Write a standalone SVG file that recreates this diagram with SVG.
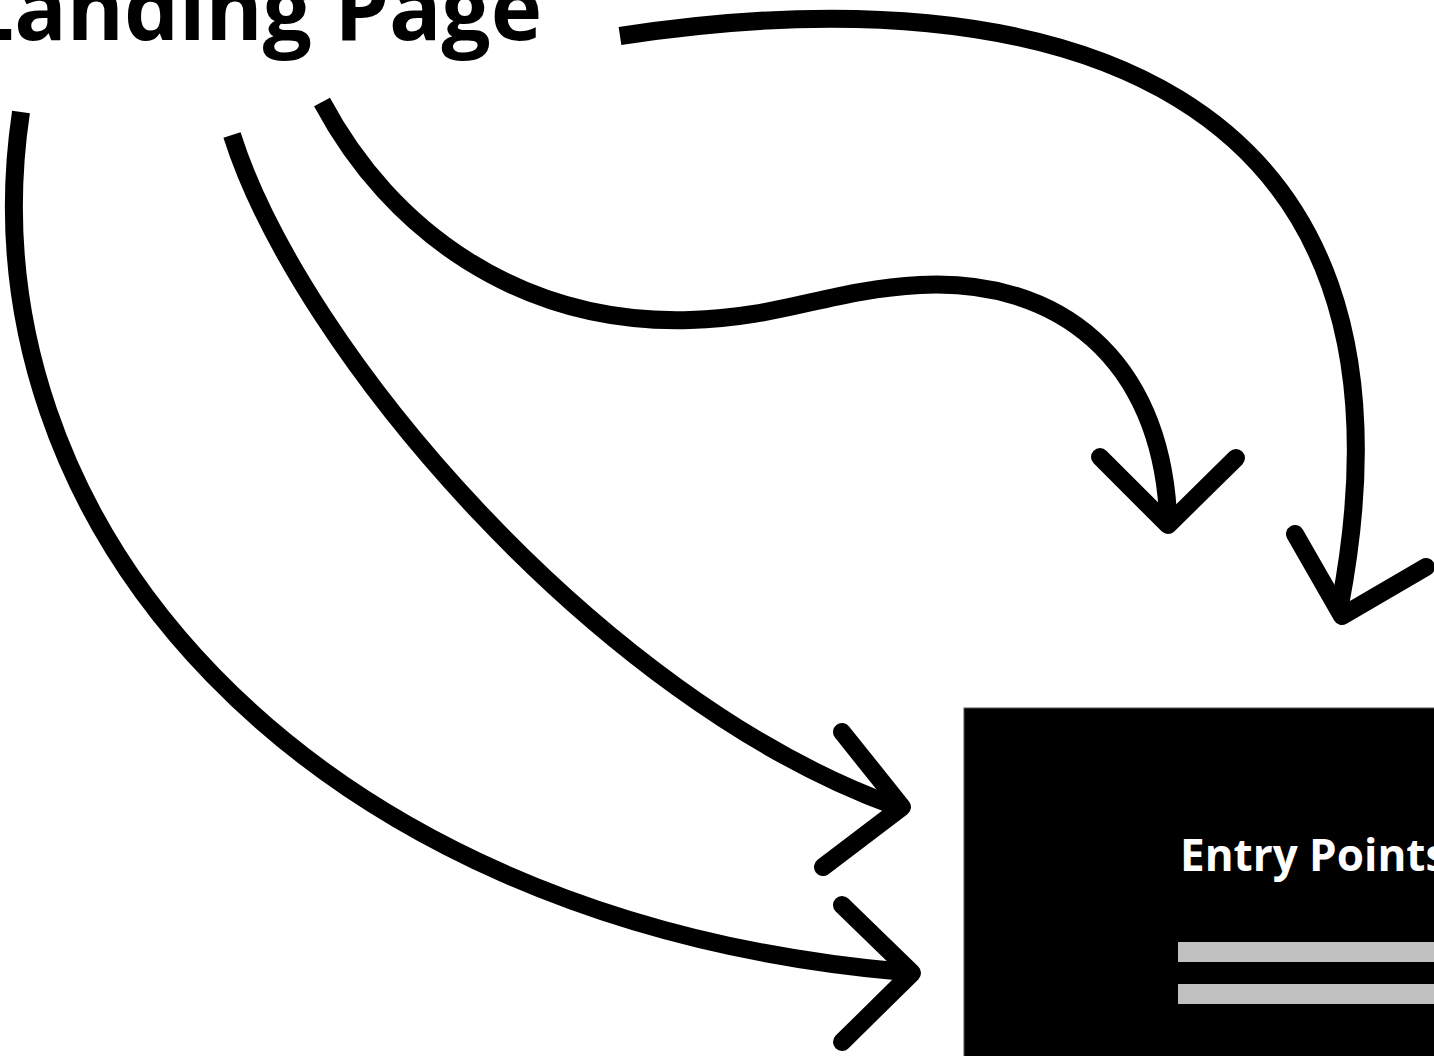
<svg xmlns="http://www.w3.org/2000/svg" width="1434" height="1056" viewBox="0 0 1434 1056">
<style>
.lbl{font-family:"Open Sans","Noto Sans","Liberation Sans",sans-serif;font-weight:700}
.c{fill:none;stroke:#000;stroke-width:18}
.h{fill:none;stroke:#000;stroke-width:18;stroke-linecap:round;stroke-linejoin:round}
</style>
<rect width="1434" height="1056" fill="#fff"/>
<g id="landing">
<text class="lbl" x="-35" y="40" font-size="87" fill="#000">Landing Page</text>
</g>
<g id="entry">
<rect x="964" y="708" width="480" height="360" fill="#000" stroke="#555" stroke-width="1"/>
<text class="lbl" x="1180" y="871" font-size="44" fill="#fff">Entry Points</text>
<rect x="1178" y="942" width="270" height="20" fill="#c0c0c0"/>
<rect x="1178" y="984" width="270" height="20" fill="#c0c0c0"/>
</g>
<g id="connectors">
<path class="c" d="M21,112 C -40,520 300,920 905,972"/>
<polyline class="h" points="842,905 912,973 842,1042"/>
<path class="c" d="M232,135 C 300,350 600,700 895,806"/>
<polyline class="h" points="842,732 902,807 823,867"/>
<path class="c" d="M322,102 C 390,230 520,325 690,320 C 780,318 830,290 920,285 C 1060,278 1160,360 1168,515"/>
<polyline class="h" points="1100,457 1168,525 1236,458"/>
<path class="c" d="M620,36 C 1050,-30 1440,80 1340,605"/>
<polyline class="h" points="1295,534 1342,616 1426,567"/>
</g>
</svg>
